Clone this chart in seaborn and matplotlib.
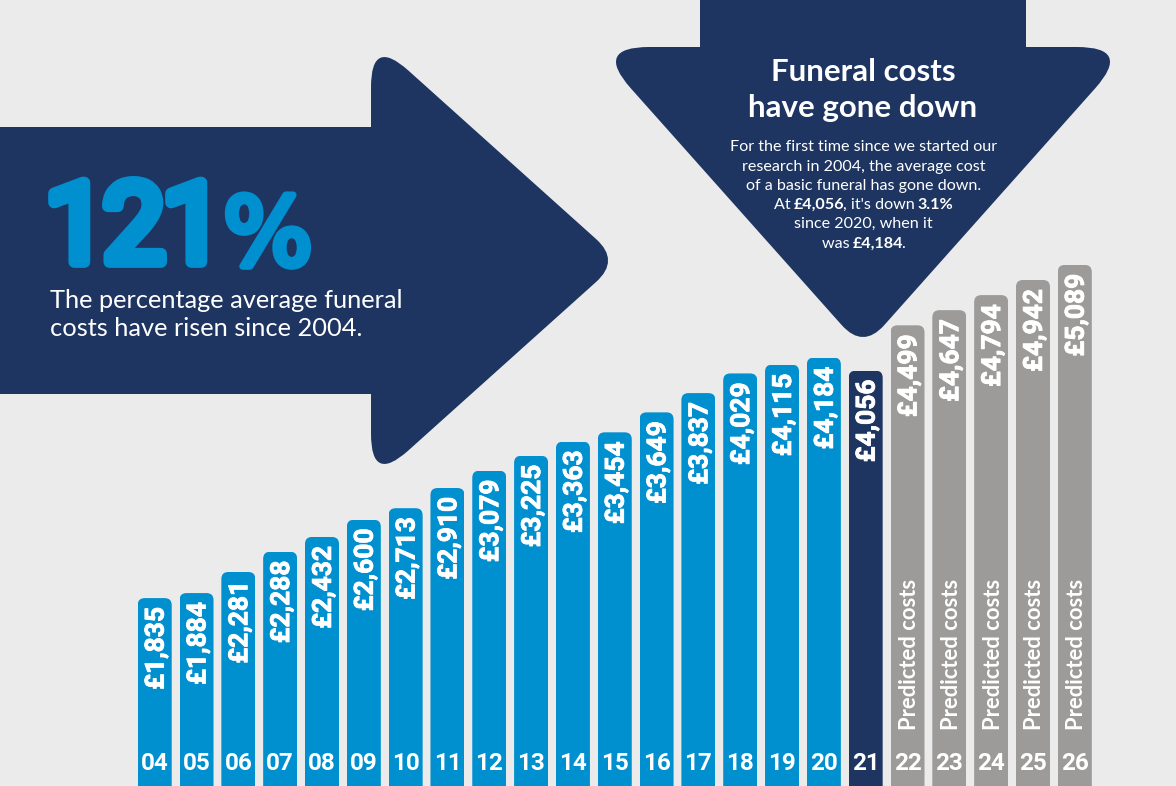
import matplotlib
matplotlib.use("Agg")
import matplotlib.pyplot as plt
import matplotlib.patheffects as pe
import pandas as pd
import seaborn as sns
from matplotlib.patches import FancyBboxPatch, PathPatch
from matplotlib.path import Path
from matplotlib.transforms import IdentityTransform

# Chart data
years = ["04", "05", "06", "07", "08", "09", "10", "11", "12", "13", "14", "15",
         "16", "17", "18", "19", "20", "21", "22", "23", "24", "25", "26"]
costs = [1835, 1884, 2281, 2288, 2432, 2600, 2713, 2910, 3079, 3225, 3363, 3454,
         3649, 3837, 4029, 4115, 4184, 4056, 4499, 4647, 4794, 4942, 5089]
# same as costs, except 06 which the original draws shorter than its label
drawn_heights = [1835, 1884, 2090, 2288, 2432, 2600, 2713, 2910, 3079, 3225, 3363, 3454,
                 3649, 3837, 4029, 4115, 4184, 4056, 4499, 4647, 4794, 4942, 5089]
predicted_years = ["22", "23", "24", "25", "26"]
current_year = "21"

BG = "#EBEBEB"
NAVY = "#1E3561"
BLUE = "#008FCF"
GREY = "#9C9B9A"
W, H = 1176, 786

sns.set_theme(style="white")
plt.rcParams["font.family"] = ["Lato", "DejaVu Sans"]


def rounded_poly(points, radii):
    # polygon with quadratic rounded corners, radius 0 keeps the corner sharp
    verts, codes = [], []
    n = len(points)
    for i, (p, r) in enumerate(zip(points, radii)):
        prev_p, next_p = points[i - 1], points[(i + 1) % n]
        if r == 0:
            verts.append(p)
            codes.append(Path.MOVETO if i == 0 else Path.LINETO)
            continue
        d1 = ((prev_p[0] - p[0]) ** 2 + (prev_p[1] - p[1]) ** 2) ** 0.5
        d2 = ((next_p[0] - p[0]) ** 2 + (next_p[1] - p[1]) ** 2) ** 0.5
        a = (p[0] + (prev_p[0] - p[0]) * r / d1, p[1] + (prev_p[1] - p[1]) * r / d1)
        b = (p[0] + (next_p[0] - p[0]) * r / d2, p[1] + (next_p[1] - p[1]) * r / d2)
        verts += [a, p, b]
        codes += [Path.MOVETO if i == 0 else Path.LINETO, Path.CURVE3, Path.CURVE3]
    verts.append(verts[0])
    codes.append(Path.CLOSEPOLY)
    return Path(verts, codes)


fig = plt.figure(figsize=(W / 100, H / 100), dpi=100, facecolor=BG)

# Background shapes and text, in picture pixels
ax_bg = fig.add_axes([0, 0, 1, 1], zorder=0)
ax_bg.set_xlim(0, W)
ax_bg.set_ylim(H, 0)
ax_bg.axis("off")

right_arrow = [(-5, 127), (371, 127), (371, 37), (620, 260.5), (371, 484), (371, 394), (-5, 394)]
ax_bg.add_patch(PathPatch(rounded_poly(right_arrow, [0, 0, 50, 32, 50, 0, 0]), fc=NAVY, ec="none"))
down_arrow = [(700, -5), (1026, -5), (1026, 47), (1132, 47), (863, 349), (594, 47), (700, 47)]
ax_bg.add_patch(PathPatch(rounded_poly(down_arrow, [0, 0, 0, 55, 32, 55, 0]), fc=NAVY, ec="none"))

# big figure: thin glyphs with a thick round stroke to get the rounded look
big_stroke = [pe.withStroke(linewidth=8.5, foreground=BLUE, joinstyle="round", capstyle="round")]
for s, x in [("1", 76), ("2", 134), ("1", 193)]:
    ax_bg.text(x, 262, s, color=BLUE, fontsize=80, family=["Roboto", "Lato"],
               va="baseline", ha="center", path_effects=big_stroke)
ax_bg.text(268, 265, "%", color=BLUE, fontsize=68, family=["DejaVu Sans"], va="baseline", ha="center",
           path_effects=[pe.withStroke(linewidth=5, foreground=BLUE, joinstyle="round")])
ax_bg.text(50, 300, "The percentage average funeral", color="white", fontsize=18.3, va="center", ha="left")
ax_bg.text(50, 329, "costs have risen since 2004.", color="white", fontsize=18.3, va="center", ha="left")

ax_bg.text(863, 72, "Funeral costs", color="white", fontsize=22.5, fontweight="bold", va="center", ha="center")
ax_bg.text(863, 108, "have gone down", color="white", fontsize=22.5, fontweight="bold", va="center", ha="center")

body_lines = [
    (147, [("For the first time since we started our", False)]),
    (167, [("research in 2004, the average cost", False)]),
    (186, [("of a basic funeral has gone down.", False)]),
    (205, [("At ", False), ("£4,056", True), (", it's down ", False), ("3.1%", True)]),
    (224, [("since 2020, when it", False)]),
    (244, [("was ", False), ("£4,184", True), (".", False)]),
]
renderer = fig.canvas.get_renderer()
for y, parts in body_lines:
    pieces = []
    for s, bold in parts:
        t = ax_bg.text(0, y, s, color="white", fontsize=11.6, fontweight="bold" if bold else "normal",
                       va="center", ha="left")
        # the measured box runs about a pixel wide
        pieces.append((t, t.get_window_extent(renderer).width - 1.5))
    x = 863 - sum(w for _, w in pieces) / 2
    for t, w in pieces:
        t.set_x(x)
        x += w

# Bars
ax = fig.add_axes([0, 0, 1, 1], zorder=1)
ax.patch.set_visible(False)
df = pd.DataFrame({"year": years, "height": drawn_heights})
colors = [GREY if y in predicted_years else NAVY if y == current_year else BLUE for y in years]
sns.barplot(data=df, x="year", y="height", hue="year", palette=colors, width=0.813,
            legend=False, saturation=1, linewidth=0, ax=ax)
ax.set_xlim(-3.699, 24.42)
ax.set_ylim(0, 7676)
ax.set_xlabel("")
ax.set_ylabel("")
ax.set_yticks([])
for spine in ax.spines.values():
    spine.set_visible(False)

# year labels sit inside the bars, so the axis has to draw above them
ax.set_axisbelow(False)
ax.tick_params(axis="x", length=0, pad=-24.5, labelsize=17.5, labelcolor="white")
plt.setp(ax.get_xticklabels(), fontweight="bold", family=["Roboto", "Lato"])

for bar in ax.patches:
    if bar.get_height() == 0:
        continue
    bb = bar.get_window_extent(renderer)
    clip = FancyBboxPatch((bb.x0, bb.y0 - 20), bb.width, bb.height + 20,
                          boxstyle="round,pad=0,rounding_size=7", transform=IdentityTransform())
    bar.set_clip_path(clip)

for i, (year, cost, height) in enumerate(zip(years, costs, drawn_heights)):
    ax.annotate(f"£{cost:,}", (i, height), xytext=(1.4, -6.5), textcoords="offset points",
                rotation=90, ha="center", va="top", color="white", fontsize=19,
                fontweight="bold", family=["Roboto", "Lato"],
                path_effects=[pe.withStroke(linewidth=0.6, foreground="white")])
    if year in predicted_years:
        ax.annotate("Predicted costs", (i, 0), xytext=(1.4, 40), textcoords="offset points",
                    rotation=90, ha="center", va="bottom", color="white", fontsize=15.8,
                    fontweight="bold", family=["Lato", "DejaVu Sans"])

fig.savefig("out.png", dpi=100, facecolor=BG)
